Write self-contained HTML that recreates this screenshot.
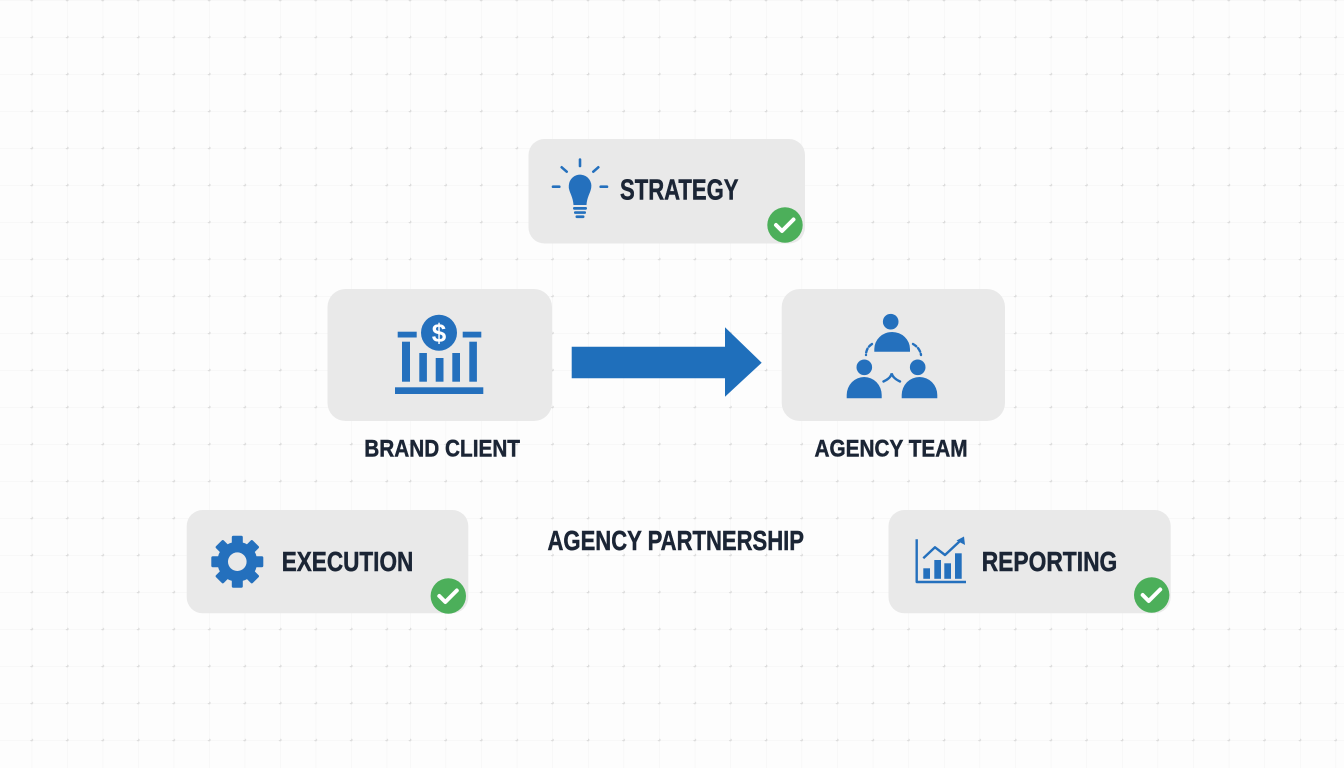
<!DOCTYPE html>
<html><head><meta charset="utf-8"><style>
html,body{margin:0;padding:0;background:#fdfdfd;}
svg{display:block;}
</style></head><body>
<svg width="1344" height="768" viewBox="0 0 1344 768" xmlns="http://www.w3.org/2000/svg">
<defs>
<pattern id="gl" x="31.7" y="0" width="35.5" height="37" patternUnits="userSpaceOnUse">
<line x1="0" y1="0" x2="0" y2="37" stroke="#f3f3f3" stroke-width="1"/>
<line x1="0" y1="0" x2="35.5" y2="0" stroke="#f3f3f3" stroke-width="1"/>
<circle cx="0" cy="0" r="1.4" fill="#dcdcdc"/>
<circle cx="35.5" cy="0" r="1.4" fill="#dcdcdc"/>
<circle cx="0" cy="37" r="1.4" fill="#dcdcdc"/>
</pattern>
<pattern id="gr" x="410" y="0" width="35.6" height="37" patternUnits="userSpaceOnUse">
<line x1="0" y1="0" x2="0" y2="37" stroke="#f3f3f3" stroke-width="1"/>
<line x1="0" y1="0" x2="35.6" y2="0" stroke="#f3f3f3" stroke-width="1"/>
<circle cx="0" cy="0" r="1.4" fill="#dcdcdc"/>
<circle cx="35.6" cy="0" r="1.4" fill="#dcdcdc"/>
<circle cx="0" cy="37" r="1.4" fill="#dcdcdc"/>
</pattern>
</defs>
<rect width="1344" height="768" fill="#fdfdfd"/>
<rect x="0" y="0" width="399" height="768" fill="url(#gl)"/>
<rect x="399" y="0" width="945" height="768" fill="url(#gr)"/>

<g font-family="'Liberation Sans', Arial, sans-serif" font-weight="bold" fill="#1b2535" stroke="#1b2535" stroke-width="0.5">

<!-- STRATEGY box -->
<rect x="528.5" y="139" width="276.5" height="104.5" rx="16" fill="#e9e9e9" stroke="none"/>
<g stroke="#2470bd" stroke-width="2.6" stroke-linecap="round" fill="none">
<line x1="580" y1="159.5" x2="580" y2="166"/>
<line x1="561.7" y1="167.3" x2="566.7" y2="171.7"/>
<line x1="598.3" y1="167.3" x2="593.3" y2="171.7"/>
<line x1="553" y1="186.7" x2="559.3" y2="186.7"/>
<line x1="600.7" y1="186.7" x2="607" y2="186.7"/>
</g>
<g fill="#2470bd" stroke="none">
<path d="M568.8,185.5 A11.3,11.3 0 1 1 591.2,188 C590,194 587,197 586.5,205 L573.5,205 C573,197 570,194 568.8,188 Z"/>
<rect x="573" y="207" width="14" height="2.7" rx="1.2"/>
<rect x="574" y="211.2" width="12" height="2.7" rx="1.2"/>
<rect x="575.5" y="215.4" width="9" height="2.7" rx="1.2"/>
</g>
<text x="620" y="199.5" font-size="28.5" textLength="118.5" lengthAdjust="spacingAndGlyphs">STRATEGY</text>
<circle cx="785" cy="225" r="17.7" fill="#4caf5a" stroke="none"/>
<path d="M776,225 L782,231 L793.5,219.5" fill="none" stroke="#fff" stroke-width="4" stroke-linecap="round" stroke-linejoin="round"/>

<!-- BRAND CLIENT box -->
<rect x="327.5" y="289" width="224.5" height="132" rx="18" fill="#e9e9e9" stroke="none"/>
<g fill="#2470bd" stroke="none">
<rect x="397.7" y="331.7" width="19" height="5.8"/>
<rect x="462.7" y="331.7" width="18.6" height="5.8"/>
<rect x="402" y="341.7" width="8" height="40"/>
<rect x="419.3" y="353" width="7.6" height="28.7"/>
<rect x="435.7" y="358" width="7.8" height="23.7"/>
<rect x="452.3" y="353" width="7.7" height="28.7"/>
<rect x="469.3" y="341.7" width="7.6" height="40"/>
<rect x="395" y="387.3" width="88.3" height="6.7"/>
<circle cx="439" cy="332.7" r="20.5" fill="#e9e9e9"/>
<circle cx="439" cy="332.7" r="18"/>
</g>
<text x="439" y="342" font-size="26" fill="#fff" stroke="none" text-anchor="middle">$</text>
<text x="364.3" y="456.3" font-size="24.5" textLength="155.7" lengthAdjust="spacingAndGlyphs">BRAND CLIENT</text>

<!-- Arrow -->
<polygon points="571.7,346.7 725,346.7 725,327.3 761.7,362.7 725,396.7 725,378.3 571.7,378.3" fill="#1f6fbb" stroke="none"/>

<!-- AGENCY TEAM box -->
<rect x="781.7" y="289" width="223.3" height="132" rx="18" fill="#e9e9e9" stroke="none"/>
<g fill="#2470bd" stroke="none">
<circle cx="890.7" cy="321.7" r="7.8"/>
<path d="M874.3,351.7 L874.3,349 A17.8,17 0 0 1 910,349 L910,351.7 Z"/>
<circle cx="864.3" cy="367.3" r="7.8"/>
<path d="M846.7,398.3 L846.7,395 A17.5,18 0 0 1 881.7,395 L881.7,398.3 Z"/>
<circle cx="917.7" cy="367.3" r="7.8"/>
<path d="M901.7,398.3 L901.7,395 A17.8,18 0 0 1 937.3,395 L937.3,398.3 Z"/>
</g>
<g fill="none" stroke="#2470bd" stroke-width="2.4" stroke-linecap="round">
<path d="M872,344 Q866,348 866,355" stroke-dasharray="4 2.5"/>
<path d="M913,344 Q920,348 921,355" stroke-dasharray="4 2.5"/>
<path d="M883.5,381.5 Q891,378 891.7,373.3 Q892.5,378 900,381.5"/>
</g>
<text x="814.5" y="456.5" font-size="24.5" textLength="153" lengthAdjust="spacingAndGlyphs">AGENCY TEAM</text>

<!-- AGENCY PARTNERSHIP -->
<text x="547.5" y="550" font-size="27.5" textLength="256.5" lengthAdjust="spacingAndGlyphs">AGENCY PARTNERSHIP</text>

<!-- EXECUTION box -->
<rect x="186.7" y="510" width="281.6" height="103.3" rx="16" fill="#e9e9e9" stroke="none"/>
<g fill="#2470bd" stroke="none" transform="translate(237.3,561.7)">
<circle r="20"/>
<rect x="-5.5" y="-26" width="11" height="12" rx="1.5"/>
<rect x="-5.5" y="-26" width="11" height="12" rx="1.5" transform="rotate(45)"/>
<rect x="-5.5" y="-26" width="11" height="12" rx="1.5" transform="rotate(90)"/>
<rect x="-5.5" y="-26" width="11" height="12" rx="1.5" transform="rotate(135)"/>
<rect x="-5.5" y="-26" width="11" height="12" rx="1.5" transform="rotate(180)"/>
<rect x="-5.5" y="-26" width="11" height="12" rx="1.5" transform="rotate(225)"/>
<rect x="-5.5" y="-26" width="11" height="12" rx="1.5" transform="rotate(270)"/>
<rect x="-5.5" y="-26" width="11" height="12" rx="1.5" transform="rotate(315)"/>
<circle r="9.3" fill="#e9e9e9"/>
</g>
<text x="281.7" y="571" font-size="27.5" textLength="131.6" lengthAdjust="spacingAndGlyphs">EXECUTION</text>
<circle cx="448.3" cy="596" r="17.7" fill="#4caf5a" stroke="none"/>
<path d="M439.3,596 L445.3,602 L456.8,590.5" fill="none" stroke="#fff" stroke-width="4" stroke-linecap="round" stroke-linejoin="round"/>

<!-- REPORTING box -->
<rect x="888.5" y="510" width="282.2" height="103.3" rx="16" fill="#e9e9e9" stroke="none"/>
<g fill="#2470bd" stroke="none">
<rect x="923.3" y="568.3" width="6.7" height="10.5"/>
<rect x="934.3" y="560" width="6.7" height="18.8"/>
<rect x="944.3" y="563.3" width="6.7" height="15.5"/>
<rect x="955" y="553.3" width="6.7" height="25.5"/>
<polygon points="964,536.5 965,545 956.5,540.5"/>
</g>
<g fill="none" stroke="#2470bd" stroke-width="2.4" stroke-linejoin="round">
<polyline points="916.7,539.3 916.7,582 966,582"/>
<polyline points="923.3,558.3 935,547.3 945,555 960,541"/>
</g>
<text x="981.7" y="571" font-size="27.5" textLength="135.6" lengthAdjust="spacingAndGlyphs">REPORTING</text>
<circle cx="1151.7" cy="595" r="17.7" fill="#4caf5a" stroke="none"/>
<path d="M1142.7,595 L1148.7,601 L1160.2,589.5" fill="none" stroke="#fff" stroke-width="4" stroke-linecap="round" stroke-linejoin="round"/>

</g>
</svg>
</body></html>
